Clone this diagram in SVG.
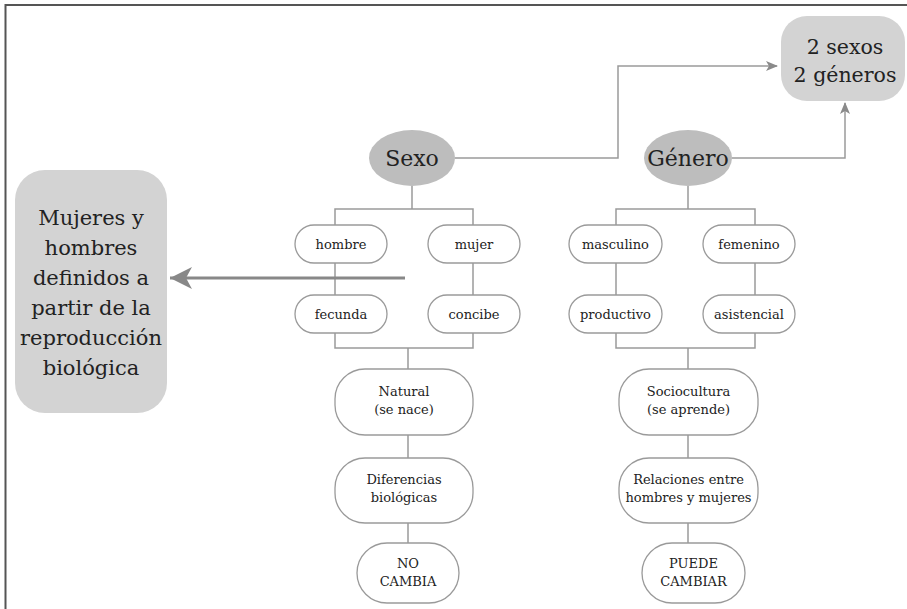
<svg xmlns="http://www.w3.org/2000/svg" width="907" height="609" viewBox="0 0 907 609">
<defs>
<style>
.ln{fill:none;stroke:#9a9a9a;stroke-width:1.5}
.box{fill:#fff;stroke:#9a9a9a;stroke-width:1.3}
.ell{fill:#bdbdbd;stroke:none}
.gbox{fill:#d3d3d3;stroke:none}
text{font-family:'DejaVu Serif',serif;fill:#222;text-anchor:middle}
.s{font-size:13px}
.big{font-size:21px}
.mid{font-size:22px}
.tr{font-size:20.5px}
</style>
<marker id="ah" markerUnits="userSpaceOnUse" markerWidth="12" markerHeight="10" refX="11" refY="5" orient="auto">
<path d="M0,0 L12,5 L0,10 L3,5 Z" fill="#8a8a8a"/>
</marker>
<marker id="ahBig" markerUnits="userSpaceOnUse" markerWidth="24" markerHeight="24" refX="22" refY="12" orient="auto">
<path d="M0,1 L22,12 L0,23 L6,12 Z" fill="#888"/>
</marker>
</defs>
<rect width="907" height="609" fill="#fff"/>
<path d="M5.5,609 V5 H907" fill="none" stroke="#555" stroke-width="2"/>

<g id="connectors">
<path class="ln" d="M455,158 H618 V66 H777" marker-end="url(#ah)"/>
<path class="ln" d="M732,158 H845 V103" marker-end="url(#ah)"/>
<path class="ln" d="M412,186 V209 M335,225 V209 H473 V225"/>
<path class="ln" d="M335,263 V295 M473,263 V295"/>
<path class="ln" d="M335,333 V348 H473 V333 M408,348 V369"/>
<path class="ln" d="M408,435 V458 M408,523 V543"/>
<path class="ln" d="M688,186 V209 M616,225 V209 H755 V225"/>
<path class="ln" d="M616,263 V295 M755,263 V295"/>
<path class="ln" d="M616,333 V348 H755 V333 M688,348 V369"/>
<path class="ln" d="M688,435 V458 M688,523 V543"/>
<path d="M405,278 H170" fill="none" stroke="#888" stroke-width="3" marker-end="url(#ahBig)"/>
</g>

<g id="n-sexos-generos">
<rect class="gbox" x="781" y="16" width="124" height="85" rx="26"/>
<text class="tr" x="845" y="54">2 sexos</text>
<text class="tr" x="845" y="82">2 géneros</text>
</g>

<g id="n-mujeres-hombres">
<rect class="gbox" x="15" y="170" width="152" height="243" rx="30"/>
<text class="big" x="91" y="225">Mujeres y</text>
<text class="big" x="91" y="255">hombres</text>
<text class="big" x="91" y="285">definidos a</text>
<text class="big" x="91" y="315">partir de la</text>
<text class="big" x="91" y="345">reproducción</text>
<text class="big" x="91" y="375">biológica</text>
</g>

<g id="n-sexo">
<ellipse class="ell" cx="412" cy="158" rx="43" ry="28"/>
<text class="mid" x="412" y="166">Sexo</text>
</g>
<g id="n-genero">
<ellipse class="ell" cx="688" cy="158" rx="44" ry="28"/>
<text class="mid" x="688" y="166">Género</text>
</g>

<g id="n-hombre"><rect class="box" x="295" y="225" width="92" height="38" rx="19"/><text class="s" x="341" y="249">hombre</text></g>
<g id="n-mujer"><rect class="box" x="428" y="225" width="92" height="38" rx="19"/><text class="s" x="474" y="249">mujer</text></g>
<g id="n-fecunda"><rect class="box" x="295" y="295" width="92" height="38" rx="19"/><text class="s" x="341" y="319">fecunda</text></g>
<g id="n-concibe"><rect class="box" x="428" y="295" width="92" height="38" rx="19"/><text class="s" x="474" y="319">concibe</text></g>

<g id="n-masculino"><rect class="box" x="569" y="225" width="93" height="38" rx="19"/><text class="s" x="615.5" y="249">masculino</text></g>
<g id="n-femenino"><rect class="box" x="703" y="225" width="92" height="38" rx="19"/><text class="s" x="749" y="249">femenino</text></g>
<g id="n-productivo"><rect class="box" x="569" y="295" width="93" height="38" rx="19"/><text class="s" x="615.5" y="319">productivo</text></g>
<g id="n-asistencial"><rect class="box" x="703" y="295" width="92" height="38" rx="19"/><text class="s" x="749" y="319">asistencial</text></g>

<g id="n-natural"><rect class="box" x="335" y="369" width="138" height="66" rx="30"/><text class="s" x="404" y="396">Natural</text><text class="s" x="404" y="414">(se nace)</text></g>
<g id="n-diferencias"><rect class="box" x="335" y="458" width="138" height="65" rx="30"/><text class="s" x="404" y="484">Diferencias</text><text class="s" x="404" y="502">biológicas</text></g>
<g id="n-nocambia"><rect class="box" x="357" y="543" width="102" height="60" rx="30"/><text class="s" x="408" y="568">NO</text><text class="s" x="408" y="586">CAMBIA</text></g>

<g id="n-sociocultura"><rect class="box" x="619" y="369" width="139" height="66" rx="30"/><text class="s" x="688.5" y="396">Sociocultura</text><text class="s" x="688.5" y="414">(se aprende)</text></g>
<g id="n-relaciones"><rect class="box" x="619" y="458" width="139" height="65" rx="30"/><text class="s" x="688.5" y="484">Relaciones entre</text><text class="s" x="688.5" y="502">hombres y mujeres</text></g>
<g id="n-puedecambiar"><rect class="box" x="642" y="543" width="103" height="60" rx="30"/><text class="s" x="693.5" y="568">PUEDE</text><text class="s" x="693.5" y="586">CAMBIAR</text></g>
</svg>
